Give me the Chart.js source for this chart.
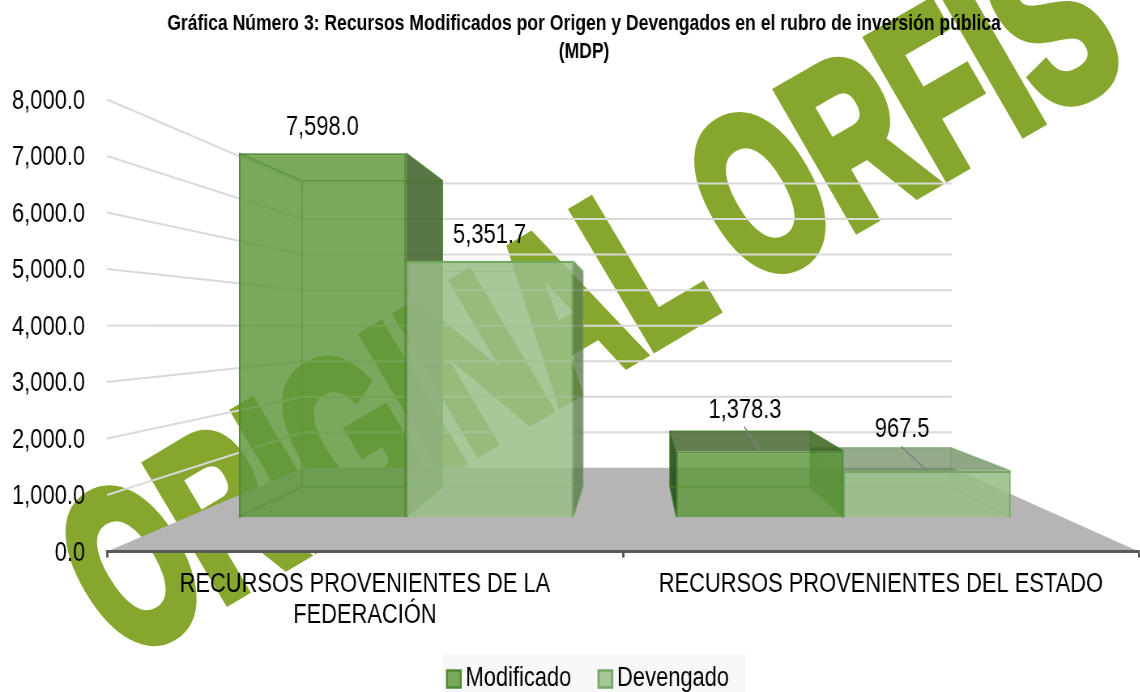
<!DOCTYPE html>
<html lang="es">
<head>
<meta charset="utf-8">
<title>Gráfica Número 3</title>
<style>html,body{margin:0;padding:0;background:#fff;overflow:hidden;width:1140px;height:692px}canvas{display:block;transform:scaleX(.81);transform-origin:0 0}</style>
<script src="https://cdn.jsdelivr.net/npm/chart.js@4"></script>
</head>
<body>
<canvas id="c" width="1442" height="692"></canvas>
<script>
const categories = [["RECURSOS PROVENIENTES DE LA", "FEDERACIÓN"], "RECURSOS PROVENIENTES DEL ESTADO"];
const modificado = [7598.0, 1378.3];
const devengado = [5351.7, 967.5];
const seriesNames = ["Modificado", "Devengado"];
const titleLines = ["Gráfica Número 3: Recursos Modificados por Origen y Devengados en el rubro de inversión pública", "(MDP)"];
const watermarkWords = ["ORIGINAL", "ORFIS"];

const SX = 0.81; // the text of the reference is condensed: the page squeezes the canvas horizontally
const FONT = '"Liberation Sans",Arial,sans-serif';
const LABEL_PX = 27;
// perspective: vanishing point and depth factors of the 3-D box
const VP = {x: 635 / SX, y: 326};
const K_WALL = 0.629, K_FRONT = 0.848, K_BACK = 0.713;
const P = (X, Y, k) => [VP.x + (X - VP.x) * k, VP.y + (Y - VP.y) * k];
const fmt = v => v.toLocaleString('en-US', {minimumFractionDigits: 1, maximumFractionDigits: 1});

function poly(ctx, pts, fill, stroke, lw) {
  ctx.beginPath();
  pts.forEach((p, i) => i ? ctx.lineTo(p[0], p[1]) : ctx.moveTo(p[0], p[1]));
  ctx.closePath();
  if (fill) { ctx.fillStyle = fill; ctx.fill(); }
  if (stroke) { ctx.strokeStyle = stroke; ctx.lineWidth = lw || 1.5; ctx.stroke(); }
}

const faceStyles = [
  {edge: 'rgba(70,125,45,.85)', side: 'rgba(60,95,35,.85)', sideOut: 'rgba(40,80,25,.92)', top: 'rgba(60,95,35,.8)', innerL: null, innerR: 'rgba(60,110,30,.28)'},
  {edge: 'rgba(110,163,92,.6)', side: 'rgba(90,125,75,.8)', sideOut: 'rgba(90,125,75,.8)', top: 'rgba(90,125,75,.65)', innerL: 'rgba(90,135,75,.3)', innerR: 'rgba(90,135,75,.08)'}
];
const labelOffsets = [[[0, -26], [-15 / SX, -41]], [[0, -25], [-25 / SX, -41]]];

function drawWatermarkWord(ctx, word, x, y, deg, sx, advanceOf) {
  ctx.save();
  ctx.translate(x, y);
  ctx.rotate(-deg * Math.PI / 180);
  ctx.scale(sx, 1);
  ctx.font = 'bold 227px ' + FONT;
  ctx.fillStyle = '#86a62e';
  ctx.strokeStyle = '#86a62e';
  ctx.lineWidth = 12;
  ctx.lineJoin = 'miter';
  ctx.textBaseline = 'alphabetic';
  const start = advanceOf ? ctx.measureText(advanceOf).width : 0;
  ctx.fillText(word, start, 0);
  ctx.strokeText(word, start, 0);
  ctx.restore();
}

const scene = {
  id: 'scene',
  afterLayout(chart) {
    // the legend of the reference sits a little right of the title's centre
    chart.legend.left += 7 / SX;
    chart.legend.right += 7 / SX;
  },
  beforeDraw(chart) {
    const {ctx, scales: {y}, chartArea: a} = chart;
    ctx.save();
    // watermark, behind the chart
    ctx.save();
    ctx.scale(1 / SX, 1);
    drawWatermarkWord(ctx, watermarkWords[0], 124, 661, 30.7, 0.625);
    drawWatermarkWord(ctx, watermarkWords[1], 106, 661, 30, 0.635, watermarkWords[0] + ' ');
    ctx.restore();
    // floor
    const b = y.getPixelForValue(0);
    poly(ctx, [[a.left, b], [a.right, b], P(a.right, b, K_WALL), P(a.left, b, K_WALL)], '#b5b5b5');
    // gridlines on side and back wall
    ctx.strokeStyle = '#d9d9d9';
    ctx.lineWidth = 2;
    y.ticks.forEach(t => {
      if (t.value === 0) return;
      const py = y.getPixelForValue(t.value);
      const q = P(a.left, py, K_WALL), r = P(a.right, py, K_WALL);
      ctx.beginPath();
      ctx.moveTo(a.left, py); ctx.lineTo(q[0], q[1]); ctx.lineTo(r[0], r[1]);
      ctx.stroke();
    });
    // legend plate
    ctx.fillStyle = '#f7f7f7';
    ctx.fillRect(443 / SX, 654, 303 / SX, 38);
    ctx.restore();
  },
  beforeDatasetsDraw(chart) {
    const {ctx} = chart;
    ctx.save();
    [1, 0].forEach(ds => {
      const st = faceStyles[ds];
      chart.getDatasetMeta(ds).data.forEach(el => {
        const L = el.x - el.width / 2, R = el.x + el.width / 2, T = el.y, B = el.base;
        const fTL = P(L, T, K_FRONT), fTR = P(R, T, K_FRONT), fBL = P(L, B, K_FRONT), fBR = P(R, B, K_FRONT);
        const bTL = P(L, T, K_BACK), bTR = P(R, T, K_BACK), bBL = P(L, B, K_BACK), bBR = P(R, B, K_BACK);
        if (fTL[1] > VP.y) poly(ctx, [fTL, fTR, bTR, bTL], st.top);
        poly(ctx, [fTL, bTL, bBL, fBL], bTL[0] < fTL[0] ? st.sideOut : st.innerL);
        poly(ctx, [fTR, bTR, bBR, fBR], bTR[0] > fTR[0] ? st.side : st.innerR);
        ctx.strokeStyle = st.edge; ctx.lineWidth = 1.5;
        poly(ctx, [bTL, bTR, bBR, bBL], null, st.edge, 1.5);
        [[fTL, bTL], [fTR, bTR], [fBL, bBL], [fBR, bBR]].forEach(e => {
          ctx.beginPath(); ctx.moveTo(e[0][0], e[0][1]); ctx.lineTo(e[1][0], e[1][1]); ctx.stroke();
        });
      });
    });
    ctx.restore();
    // the library's bars are the front face of each box
    ctx.save();
    ctx.translate(VP.x, VP.y);
    ctx.scale(K_FRONT, K_FRONT);
    ctx.translate(-VP.x, -VP.y);
  },
  afterDatasetsDraw(chart) {
    const {ctx} = chart;
    ctx.restore();
    ctx.save();
    ctx.font = LABEL_PX + 'px ' + FONT;
    ctx.textAlign = 'center';
    ctx.textBaseline = 'middle';
    [0, 1].forEach(ds => {
      const values = chart.data.datasets[ds].data;
      chart.getDatasetMeta(ds).data.forEach((el, i) => {
        const a = P(el.x, el.y, K_FRONT), o = labelOffsets[ds][i];
        if (o[0] !== 0) {
          ctx.strokeStyle = '#7f7f7f'; ctx.lineWidth = 1.5;
          ctx.beginPath();
          ctx.moveTo(a[0] + o[0] * 1.05, a[1] + o[1] * 0.6);
          ctx.lineTo(a[0], a[1]);
          ctx.stroke();
        }
        ctx.fillStyle = '#000';
        ctx.fillText(fmt(values[i]), a[0] + o[0], a[1] + o[1]);
      });
    });
    ctx.restore();
  }
};

new Chart(document.getElementById('c'), {
  type: 'bar',
  data: {
    labels: categories,
    datasets: [
      {label: seriesNames[0], data: modificado, backgroundColor: 'rgba(96,151,60,.835)', borderColor: '#4f8a35', borderWidth: 2.5},
      {label: seriesNames[1], data: devengado, backgroundColor: 'rgba(154,190,136,.85)', borderColor: '#72a860', borderWidth: 2.5}
    ]
  },
  plugins: [scene],
  options: {
    responsive: false,
    animation: false,
    layout: {padding: {left: 0, top: 0, right: 0, bottom: -10.5}},
    datasets: {bar: {categoryPercentage: 0.764, barPercentage: 1, clip: false}},
    scales: {
      x: {
        type: 'category', offset: true,
        border: {display: true, color: '#595959', width: 3},
        grid: {display: true, offset: true, drawOnChartArea: false, drawTicks: true, tickLength: 6, tickColor: '#595959', tickWidth: 3},
        ticks: {color: '#000', font: {family: FONT, size: LABEL_PX, lineHeight: 31 / 27}, padding: 11.5, maxRotation: 0, autoSkip: false},
        afterFit(s) { s.height = 73; }
      },
      y: {
        min: 0, max: 8000,
        border: {display: false},
        grid: {display: false, drawTicks: false},
        ticks: {stepSize: 1000, color: '#000', font: {family: FONT, size: LABEL_PX}, padding: 22 / SX, labelOffset: 2, callback: fmt},
        afterFit(s) { s.width = 107 / SX; }
      },
      spacer: {
        type: 'linear', position: 'right', display: true,
        border: {display: false}, grid: {display: false}, ticks: {display: false},
        afterFit(s) { s.width = 36; }
      }
    },
    plugins: {
      tooltip: {enabled: false},
      title: {
        display: true, text: titleLines, color: '#000',
        font: {family: FONT, size: 21.7, weight: 'bold', lineHeight: 28 / 21.7},
        padding: {top: 10, bottom: 33.5}
      },
      legend: {
        display: true, position: 'bottom',
        labels: {
          color: '#000', font: {family: FONT, size: LABEL_PX},
          usePointStyle: true, pointStyle: 'rect', boxWidth: 2, boxHeight: 17, padding: 41
        }
      }
    }
  }
});
</script>
</body>
</html>
